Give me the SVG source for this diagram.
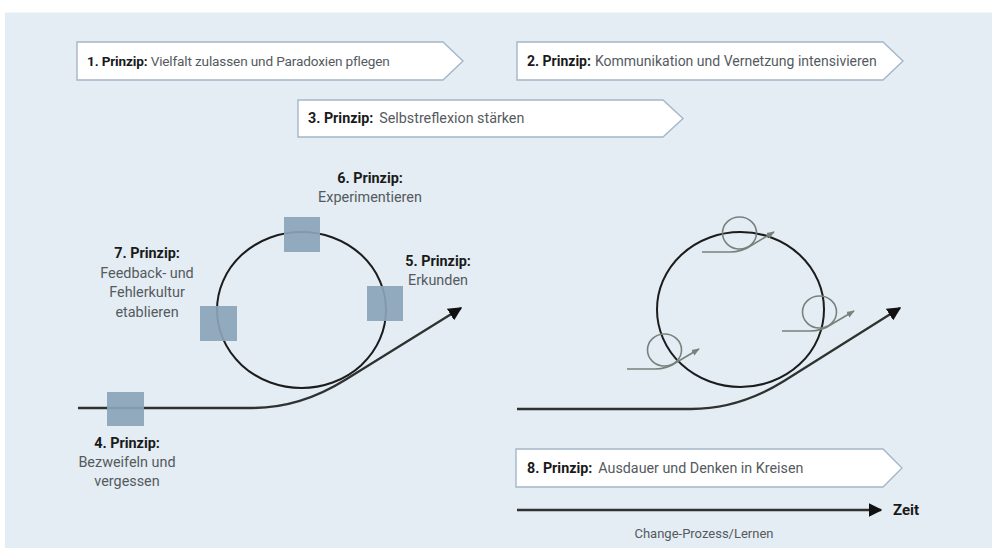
<svg xmlns="http://www.w3.org/2000/svg" width="992" height="548" viewBox="0 0 992 548">
<defs>
<style>
.bn{fill:#ffffff;stroke:#a4b6c9;stroke-width:1.4}
.t{font-family:Roboto,"Liberation Sans",sans-serif;font-size:14.3px;fill:#555a5e}
.b{font-weight:bold;fill:#1a1a1a}
.lbl{font-family:Roboto,"Liberation Sans",sans-serif;font-size:14.4px;fill:#555a5e;text-anchor:middle}
.sq{fill:#8ba4ba;fill-opacity:0.92}
.loop{fill:none;stroke:#1c1c1c;stroke-width:2}
.line{fill:none;stroke:#2e3230;stroke-width:2.3}
.mini{fill:none;stroke:#77827c;stroke-width:1.6}
</style>
<marker id="ah" viewBox="0 0 10 10" refX="9" refY="5" markerWidth="6" markerHeight="6" markerUnits="strokeWidth" orient="auto">
<path d="M0,0 L10,5 L0,10 z" fill="#111"/>
</marker>
<marker id="ahs" viewBox="0 0 10 10" refX="9" refY="5" markerWidth="5" markerHeight="5" markerUnits="strokeWidth" orient="auto">
<path d="M0,1 L10,5 L0,9 z" fill="#77827c"/>
</marker>
<g id="miniloop">
<ellipse class="mini" cx="37.5" cy="-19" rx="17" ry="16"/>
<path class="mini" d="M0,0 H28 Q40,0 50,-7 L72,-20" marker-end="url(#ahs)"/>
</g>
</defs>
<rect x="5" y="12.5" width="987" height="536" fill="#e4edf3"/>

<g id="p1">
<path class="bn" d="M77,42 H443 L463,61 L443,80 H77 Z"/>
<text class="t" x="87" y="66" style="font-size:13.6px;letter-spacing:-0.15px"><tspan class="b">1. Prinzip:</tspan> Vielfalt zulassen und Paradoxien pflegen</text>
</g>
<g id="p2">
<path class="bn" d="M517,42 H883 L903,61 L883,80 H517 Z"/>
<text class="t" x="527" y="66" style="font-size:14px"><tspan class="b">2. Prinzip:</tspan><tspan dx="4">Kommunikation und Vernetzung intensivieren</tspan></text>
</g>
<g id="p3">
<path class="bn" d="M298,100 H663 L683,118.5 L663,137 H298 Z"/>
<text class="t" x="308" y="123"><tspan class="b">3. Prinzip:</tspan><tspan dx="6">Selbstreflexion stärken</tspan></text>
</g>
<g id="p8">
<path class="bn" d="M516,449 H883 L902,468 L883,487 H516 Z"/>
<text class="t" x="527" y="473"><tspan class="b">8. Prinzip:</tspan><tspan dx="6">Ausdauer und Denken in Kreisen</tspan></text>
</g>

<g id="connectors">
<path class="line" d="M78,408 H252 Q300,408 345,380 L461,308" marker-end="url(#ah)"/>
<path class="line" d="M517,409 H691 Q739,409 784,381 L900,308" marker-end="url(#ah)"/>
<path class="line" d="M517,510 H881" marker-end="url(#ah)"/>
</g>

<g id="left-cycle">
<ellipse class="loop" cx="301.5" cy="310" rx="84.5" ry="78"/>
</g>
<g id="right-cycle">
<ellipse class="loop" cx="740.5" cy="309.5" rx="83.5" ry="77.5"/>
</g>

<g id="sq4"><rect class="sq" x="107" y="392" width="37" height="34"/></g>
<g id="sq5"><rect class="sq" x="367" y="286" width="36" height="35"/></g>
<g id="sq6"><rect class="sq" x="284" y="217" width="36" height="35"/></g>
<g id="sq7"><rect class="sq" x="200" y="306" width="37" height="35"/></g>

<g id="mini1"><use href="#miniloop" x="702" y="252"/></g>
<g id="mini2"><use href="#miniloop" x="782" y="331"/></g>
<g id="mini3"><use href="#miniloop" x="627" y="369"/></g>

<g id="l6">
<text class="lbl" x="370" y="183"><tspan class="b">6. Prinzip:</tspan></text>
<text class="lbl" x="370" y="202">Experimentieren</text>
</g>
<g id="l7">
<text class="lbl" x="147" y="258"><tspan class="b">7. Prinzip:</tspan></text>
<text class="lbl" x="147" y="277.5">Feedback- und</text>
<text class="lbl" x="147" y="297">Fehlerkultur</text>
<text class="lbl" x="147" y="316.5">etablieren</text>
</g>
<g id="l5">
<text class="lbl" x="438" y="266"><tspan class="b">5. Prinzip:</tspan></text>
<text class="lbl" x="438" y="285">Erkunden</text>
</g>
<g id="l4">
<text class="lbl" x="127" y="448"><tspan class="b">4. Prinzip:</tspan></text>
<text class="lbl" x="127" y="467">Bezweifeln und</text>
<text class="lbl" x="127" y="486">vergessen</text>
</g>
<g id="zeit">
<text class="t b" x="893" y="515" style="font-size:15px">Zeit</text>
<text class="lbl" x="704" y="538" style="font-size:13px">Change-Prozess/Lernen</text>
</g>
</svg>
